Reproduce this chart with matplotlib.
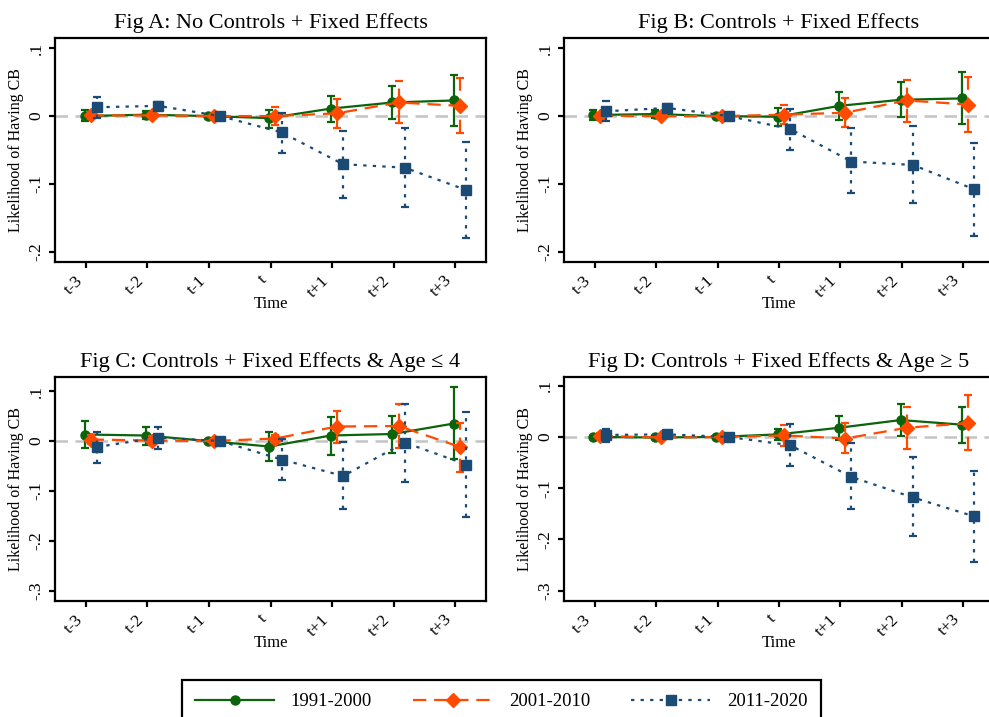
import numpy as np
import matplotlib
matplotlib.use('Agg')
import matplotlib.pyplot as plt
from matplotlib.lines import Line2D

plt.rcParams['font.family'] = ['Liberation Serif', 'DejaVu Serif']

periods = ['t-3', 't-2', 't-1', 't', 't+1', 't+2', 't+3']
series_names = ['1991-2000', '2001-2010', '2011-2020']

# Fig A
a_green = [0.000, 0.002, 0, -0.003, 0.011, 0.020, 0.023]
a_green_lo = [-0.008, -0.004, 0, -0.017, -0.009, -0.005, -0.014]
a_green_hi = [0.009, 0.007, 0, 0.009, 0.030, 0.044, 0.060]
a_orange = [0.001, 0.001, 0, 0.000, 0.004, 0.020, 0.015]
a_orange_lo = [-0.004, -0.003, 0, -0.013, -0.017, -0.010, -0.025]
a_orange_hi = [0.006, 0.004, 0, 0.014, 0.025, 0.051, 0.056]
a_blue = [0.013, 0.015, 0, -0.024, -0.071, -0.076, -0.109]
a_blue_lo = [-0.003, 0.009, 0, -0.055, -0.120, -0.134, -0.179]
a_blue_hi = [0.028, 0.021, 0, 0.004, -0.022, -0.017, -0.038]

# Fig B
b_green = [0.0015, 0.003, 0, -0.001, 0.015, 0.024, 0.026]
b_green_lo = [-0.006, -0.003, 0, -0.015, -0.006, -0.002, -0.012]
b_green_hi = [0.009, 0.009, 0, 0.012, 0.036, 0.050, 0.065]
b_orange = [0.0005, 0.000, 0, 0.002, 0.005, 0.023, 0.017]
b_orange_lo = [-0.004, -0.004, 0, -0.012, -0.016, -0.009, -0.024]
b_orange_hi = [0.005, 0.004, 0, 0.016, 0.027, 0.053, 0.058]
b_blue = [0.007, 0.012, 0, -0.019, -0.067, -0.072, -0.108]
b_blue_lo = [-0.008, 0.006, 0, -0.050, -0.113, -0.128, -0.176]
b_blue_hi = [0.022, 0.018, 0, 0.011, -0.018, -0.015, -0.039]

# Fig C
c_green = [0.013, 0.011, 0, -0.011, 0.011, 0.014, 0.035]
c_green_lo = [-0.013, -0.008, 0, -0.040, -0.027, -0.023, -0.035]
c_green_hi = [0.040, 0.029, 0, 0.018, 0.048, 0.050, 0.109]
c_orange = [0.003, 0.001, 0, 0.005, 0.029, 0.030, -0.012]
c_orange_lo = [-0.006, -0.008, 0, -0.003, -0.003, -0.013, -0.062]
c_orange_hi = [0.013, 0.010, 0, 0.013, 0.061, 0.074, 0.037]
c_blue = [-0.012, 0.007, 0, -0.037, -0.070, -0.003, -0.047]
c_blue_lo = [-0.043, -0.015, 0, -0.078, -0.135, -0.081, -0.151]
c_blue_hi = [0.019, 0.029, 0, 0.005, -0.001, 0.074, 0.059]

# Fig D
d_green = [0.000, -0.001, 0, 0.005, 0.018, 0.033, 0.024]
d_green_lo = [-0.002, -0.003, 0, -0.006, -0.006, 0.001, -0.011]
d_green_hi = [0.002, 0.001, 0, 0.015, 0.041, 0.064, 0.059]
d_orange = [0.002, -0.001, 0, 0.003, -0.003, 0.018, 0.027]
d_orange_lo = [-0.003, -0.004, 0, -0.018, -0.032, -0.024, -0.026]
d_orange_hi = [0.007, 0.002, 0, 0.024, 0.027, 0.059, 0.082]
d_blue = [0.004, 0.005, 0, -0.016, -0.078, -0.118, -0.155]
d_blue_lo = [-0.010, 0.000, 0, -0.057, -0.141, -0.193, -0.243]
d_blue_hi = [0.016, 0.010, 0, 0.026, -0.012, -0.040, -0.067]

titles = ['Fig A: No Controls + Fixed Effects',
          'Fig B: Controls + Fixed Effects',
          'Fig C: Controls + Fixed Effects & Age \u2264 4',
          'Fig D: Controls + Fixed Effects & Age \u2265 5']

yticks_ab = [0.1, 0, -0.1, -0.2]
yticklabels_ab = ['.1', '0', '-.1', '-.2']
yticks_cd = [0.1, 0, -0.1, -0.2, -0.3]
yticklabels_cd = ['.1', '0', '-.1', '-.2', '-.3']

panels = [
    ([a_green, a_orange, a_blue], [a_green_lo, a_orange_lo, a_blue_lo], [a_green_hi, a_orange_hi, a_blue_hi]),
    ([b_green, b_orange, b_blue], [b_green_lo, b_orange_lo, b_blue_lo], [b_green_hi, b_orange_hi, b_blue_hi]),
    ([c_green, c_orange, c_blue], [c_green_lo, c_orange_lo, c_blue_lo], [c_green_hi, c_orange_hi, c_blue_hi]),
    ([d_green, d_orange, d_blue], [d_green_lo, d_orange_lo, d_blue_lo], [d_green_hi, d_orange_hi, d_blue_hi]),
]

colors = ['#0b640b', '#ff4a00', '#1b4a74']
markers = ['o', 'D', 's']
msizes = [6.5, 7.5, 7.5]
lstyles = ['-', (0, (6, 3.5)), (0, (1.5, 2.8))]
offsets = [-0.02, 0.08, 0.18]

W, H = 989, 717
fig = plt.figure(figsize=(W / 100, H / 100), dpi=100)

# axes boxes in pixels: left, top, right, bottom
boxes = [(55, 38, 486, 262), (564, 38, 994, 262),
         (55, 377, 486, 601), (564, 377, 994, 601)]
ylims = [(-0.215, 0.115), (-0.215, 0.115), (-0.32, 0.128), (-0.32, 0.117)]

x = np.arange(len(periods))

for i, (l, t, r, b) in enumerate(boxes):
    ax = fig.add_axes([l / W, 1 - b / H, (r - l) / W, (b - t) / H])
    ax.axhline(0, color='#c4c4c4', ls=(0, (5, 3)), lw=1.8, zorder=0)
    ys, los, his = panels[i]
    for k in range(3):
        y = np.array(ys[k])
        lo = np.array(los[k])
        hi = np.array(his[k])
        eb = ax.errorbar(x + offsets[k], y, yerr=[y - lo, hi - y],
                         color=colors[k], marker=markers[k], ms=msizes[k],
                         ls=lstyles[k], lw=1.6, elinewidth=1.6,
                         capsize=3.2, capthick=1.6, zorder=2 + k)
        eb[2][0].set_linestyle(lstyles[k])
    ax.set_xlim(-0.5, 6.5)
    ax.set_ylim(*ylims[i])
    ax.set_xticks(x)
    ax.set_xticklabels(periods, rotation=45, ha='right', fontsize=12.5)
    if i < 2:
        ax.set_yticks(yticks_ab)
        ax.set_yticklabels(yticklabels_ab, rotation=90, va='center', fontsize=12.5)
    else:
        ax.set_yticks(yticks_cd)
        ax.set_yticklabels(yticklabels_cd, rotation=90, va='center', fontsize=12.5)
    for s in ax.spines.values():
        s.set_linewidth(1.6)
    ax.tick_params(width=1.6, length=4.5, pad=3)
    ax.set_xlabel('Time', fontsize=12, labelpad=-3)
    ax.set_ylabel('Likelihood of Having CB', fontsize=11.5, labelpad=3)
    ax.set_title(titles[i], fontsize=16, pad=7)

handles = [Line2D([], [], color=colors[k], marker=markers[k], ms=msizes[k],
                  ls=lstyles[k], lw=1.6) for k in range(3)]
leg = fig.legend(handles, series_names, loc='upper left', ncol=3,
                 bbox_to_anchor=(182 / W, 1 - 680 / H), borderaxespad=0,
                 fontsize=13.5, handlelength=4.2, handletextpad=0.9,
                 columnspacing=2.2, borderpad=0.7, fancybox=False,
                 framealpha=1)
leg.get_frame().set_edgecolor('black')
leg.get_frame().set_linewidth(1.6)

fig.savefig('out.png', dpi=100)
